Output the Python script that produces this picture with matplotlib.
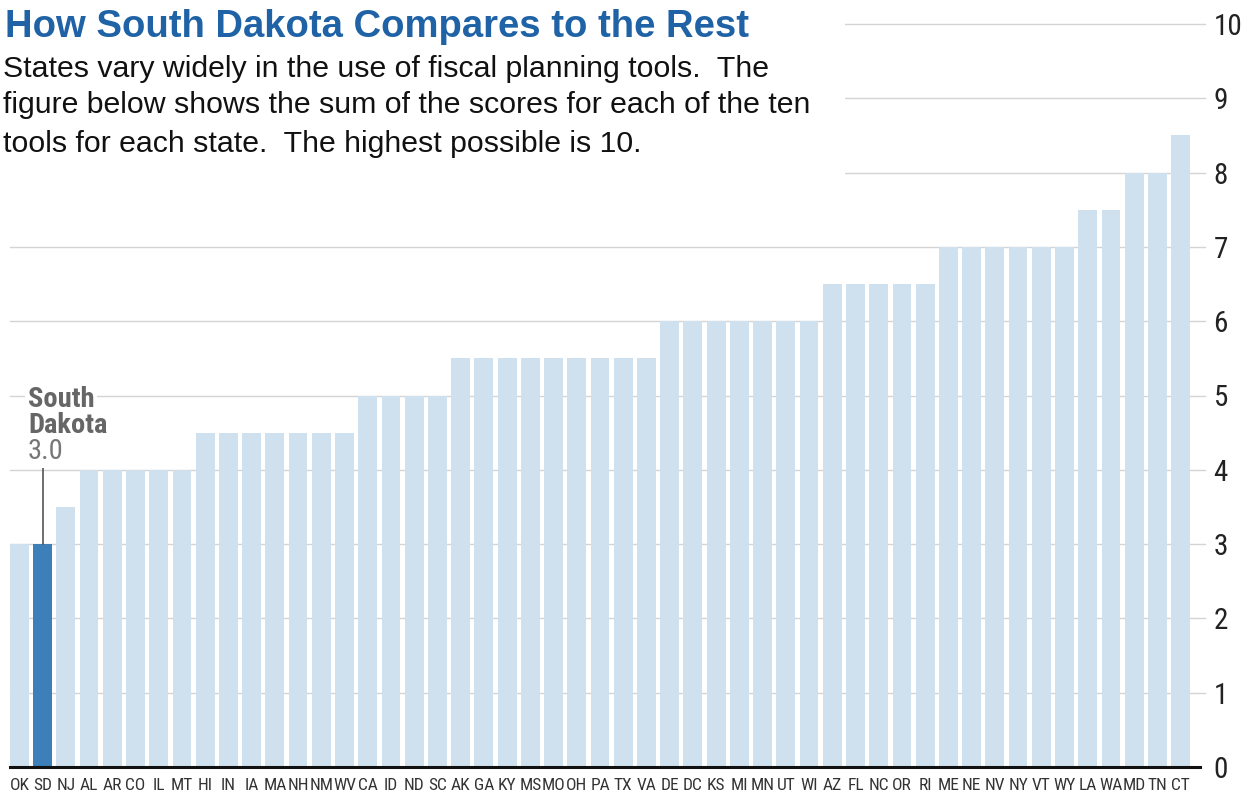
import matplotlib
matplotlib.use("Agg")
import matplotlib.pyplot as plt
from matplotlib import font_manager
from matplotlib.font_manager import FontProperties
from matplotlib.patches import Rectangle

states = ["OK", "SD", "NJ", "AL", "AR", "CO", "IL", "MT", "HI", "IN", "IA", "MA", "NH", "NM", "WV",
          "CA", "ID", "ND", "SC", "AK", "GA", "KY", "MS", "MO", "OH", "PA", "TX", "VA", "DE", "DC",
          "KS", "MI", "MN", "UT", "WI", "AZ", "FL", "NC", "OR", "RI", "ME", "NE", "NV", "NY", "VT",
          "WY", "LA", "WA", "MD", "TN", "CT"]
scores = [3.0, 3.0, 3.5, 4.0, 4.0, 4.0, 4.0, 4.0, 4.5, 4.5, 4.5, 4.5, 4.5, 4.5, 4.5,
          5.0, 5.0, 5.0, 5.0, 5.5, 5.5, 5.5, 5.5, 5.5, 5.5, 5.5, 5.5, 5.5, 6.0, 6.0,
          6.0, 6.0, 6.0, 6.0, 6.0, 6.5, 6.5, 6.5, 6.5, 6.5, 7.0, 7.0, 7.0, 7.0, 7.0,
          7.0, 7.5, 7.5, 8.0, 8.0, 8.5]
yticks = list(range(0, 11))
highlight = "SD"


def stretch_val(f):
    s = f.stretch
    if isinstance(s, (int, float)):
        return s
    return font_manager.stretch_dict.get(s, 500)


def weight_val(f):
    w = f.weight
    if isinstance(w, (int, float)):
        return w
    return font_manager.weight_dict.get(w, 400)


def find_condensed(bold=False):
    cands = []
    for f in font_manager.fontManager.ttflist:
        if f.style != "normal":
            continue
        name = f.name
        fn = f.fname.lower()
        cond = (stretch_val(f) < 500 or "condensed" in name.lower() or "narrow" in name.lower()
                or "condensed" in fn or "narrow" in fn)
        if not cond:
            continue
        if "mono" in name.lower() or "serif" in name.lower() and "sans" not in name.lower():
            continue
        w = weight_val(f)
        if bold and w < 600:
            continue
        if not bold and (w < 350 or w > 500):
            continue
        pref = 10
        for i, key in enumerate(["roboto", "open", "noto sans", "liberation", "dejavu sans", "lato", "inter"]):
            if key in name.lower():
                pref = i
                break
        cands.append((pref, abs(w - (700 if bold else 400)), f.fname))
    if cands:
        cands.sort()
        return cands[0][2]
    return None


names = {f.name for f in font_manager.fontManager.ttflist}
main = "Liberation Sans" if "Liberation Sans" in names else "DejaVu Sans"
cond_reg = find_condensed(False)
cond_bold = find_condensed(True)


def cfp(size, bold=False):
    path = cond_bold if bold else cond_reg
    if path:
        return FontProperties(fname=path, size=size)
    return FontProperties(family=main, size=size, weight="bold" if bold else "normal")


W, H = 1251, 799
fig = plt.figure(figsize=(W / 100, H / 100), dpi=100)
ax_left, ax_right, ax_bottom, ax_top = 10, 1190, 767, 24
ax = fig.add_axes([ax_left / W, 1 - ax_bottom / H, (ax_right - ax_left) / W, (ax_bottom - ax_top) / H])

x = list(range(len(states)))
colors = ["#3d7fb8" if s == highlight else "#cfe0ee" for s in states]
ax.bar(x, scores, width=0.81, color=colors, zorder=2)
ax.set_xlim(-0.405, len(states) - 1 + 0.405)
ax.set_ylim(0, 10)

for t in yticks[1:]:
    ax.axhline(t, xmin=0, xmax=1.0127, color="#d4d4d4", lw=1.0, zorder=1, clip_on=False)
ax.axhline(0, xmin=0, xmax=1.0085, color="#111111", lw=2.2, zorder=3, clip_on=False)

for sp in ax.spines.values():
    sp.set_visible(False)
ax.yaxis.tick_right()
ax.set_yticks(yticks)
ax.set_yticklabels([str(t) for t in yticks], fontproperties=cfp(21), color="#222222")
ax.tick_params(axis="y", length=0, pad=17)
ax.set_xticks(x)
ax.set_xticklabels(states, fontproperties=cfp(12.5), color="#333333")
ax.tick_params(axis="x", length=0, pad=8)

# white mask behind the header text
fig.patches.append(Rectangle((0, 1 - 195 / H), 845 / W, 195 / H, transform=fig.transFigure,
                             facecolor="white", edgecolor="none", zorder=5))

fig.text(5 / W, 1 - 37 / H, "How South Dakota Compares to the Rest", fontsize=27.5, fontweight="bold",
         color="#1f63a6", family=main, va="baseline", zorder=6)
sub = ["States vary widely in the use of fiscal planning tools.  The",
       "figure below shows the sum of the scores for each of the ten",
       "tools for each state.  The highest possible is 10."]
sub_base = [77, 113, 152]
for line, yb in zip(sub, sub_base):
    fig.text(3 / W, 1 - yb / H, line, fontsize=21.8, color="#111111", family=main,
             va="baseline", zorder=6)

# South Dakota annotation
si = states.index(highlight)
sv = scores[si]
ax.plot([si, si], [sv, sv + 1.04], color="#555555", lw=1.2, zorder=4)
bb = dict(facecolor="white", edgecolor="none", pad=2)
ax.text(si - 0.63, sv + 1.845, "South", fontproperties=cfp(20.5, True), color="#666666",
        va="baseline", bbox=bb, zorder=5)
ax.text(si - 0.63, sv + 1.495, "Dakota", fontproperties=cfp(20.5, True), color="#666666",
        va="baseline", bbox=bb, zorder=5)
ax.text(si - 0.63, sv + 1.145, f"{sv:.1f}", fontproperties=cfp(20.5), color="#777777",
        va="baseline", bbox=bb, zorder=5)

fig.savefig("out.png", dpi=100, facecolor="white")
